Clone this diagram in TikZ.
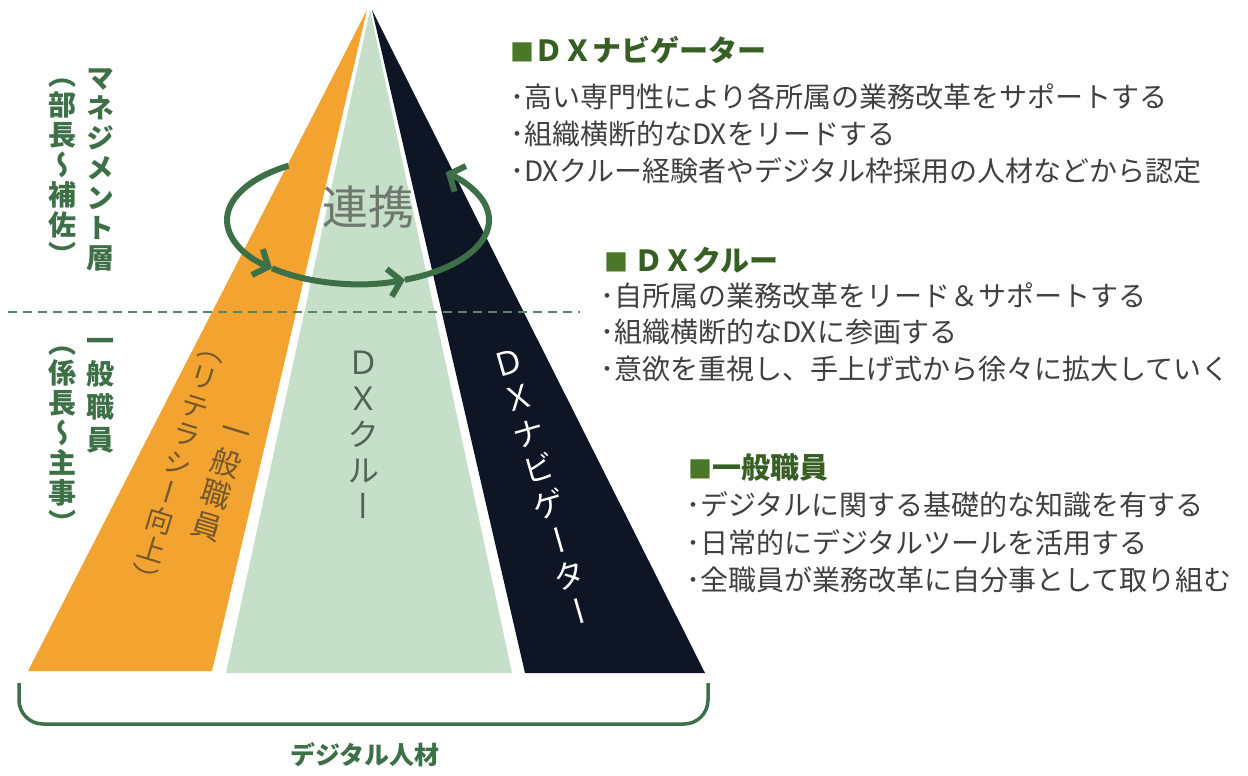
\documentclass[tikz,border=0pt]{standalone}
\usepackage{fontspec}
\usetikzlibrary{arrows.meta}
\newfontfamily\jp{Noto Sans CJK JP}
\newfontfamily\jpv[RawFeature=+vert]{Noto Sans CJK JP}
\definecolor{orangeband}{RGB}{242,163,48}
\definecolor{mintband}{RGB}{197,223,200}
\definecolor{navyband}{RGB}{14,22,38}
\definecolor{lgreen}{RGB}{62,112,72}
\definecolor{hgreen}{RGB}{55,95,35}
\definecolor{sqgreen}{RGB}{75,120,40}
\definecolor{bodygray}{RGB}{64,64,64}
\definecolor{centergray}{RGB}{110,120,110}
\definecolor{minttext}{RGB}{80,100,85}
\definecolor{orangetext}{RGB}{115,88,45}
\tikzset{
  vlabel/.style={font=\jpv\bfseries\fontsize{28}{30}\selectfont, text=lgreen, align=center, inner sep=0pt},
  vband/.style={font=\jpv\fontsize{28}{30}\selectfont, align=center, inner sep=0pt},
  heading/.style={font=\jp\bfseries\fontsize{29}{32}\selectfont, text=hgreen, anchor=west, inner sep=0pt},
  bodyline/.style={font=\jp\fontsize{28}{32}\selectfont, text=bodygray, anchor=west, inner sep=0pt},
  cyc/.style={draw=lgreen, line width=6pt, -{Straight Barb[length=12pt,width=28pt,line width=6pt]}},
}
\newcommand{\sq}{\textcolor{sqgreen}{\fontsize{24}{28}\selectfont ■}}
\newcommand{\mycol}[2]{$\vcenter{\baselineskip=#1\lineskiplimit=-100pt\lineskip=0pt\halign{\hfil##\hfil\cr#2\crcr}}$}
\begin{document}
\begin{tikzpicture}[x=1pt,y=1pt]
\useasboundingbox (0,0) rectangle (1248,-776);
\fill[white] (0,0) rectangle (1248,-776);

% pyramid bands
\fill[orangeband] (367,-10) -- (28,-671) -- (212,-671) -- cycle;
\fill[mintband] (370,-10) -- (226,-673) -- (512,-673) -- cycle;
\fill[navyband] (372,-10) -- (525,-673) -- (705,-673) -- cycle;

% divider
\draw[lgreen!85!white, line width=2pt, dash pattern=on 9pt off 6pt] (8,-312) -- (580,-312);

% cycle arrow
\draw[cyc] (358,-220) ++(122:131 and 64) arc[start angle=122, end angle=229, x radius=131, y radius=64];
\draw[cyc] (358,-220) ++(229:131 and 64) arc[start angle=229, end angle=291, x radius=131, y radius=64];
\draw[cyc] (358,-220) ++(291:131 and 64) arc[start angle=291, end angle=408, x radius=131, y radius=64];

\node[font=\jp\fontsize{46}{50}\selectfont, text=centergray, inner sep=0pt] (renkei) at (368,-207) {連携};

% texts in bands
\node[vband, text=minttext, font=\jpv\fontsize{32}{36}\selectfont] (crew) at (363,-435) {Ｄ\\Ｘ\\ク\\ル\\ー};
\node[vband, text=white, font=\jpv\fontsize{32}{37}\selectfont, rotate=16] (navi) at (544,-487) {Ｄ\\Ｘ\\ナ\\ビ\\ゲ\\ー\\タ\\ー};
\node[vband, text=orangetext, rotate=-17] (lit) at (198,-478)
  {\mycol{30pt}{（\cr リ\cr テ\cr ラ\cr シ\cr ー\cr 向\cr 上\cr ）}\hspace{17pt}{\fontsize{30}{33}\selectfont\mycol{33pt}{一\cr 般\cr 職\cr 員}}};

% left labels
\node[vlabel] (mgmt) at (100,-170) {マ\\ネ\\ジ\\メ\\ン\\ト\\層};
\node[vlabel] (mgmt2) at (62,-172) {（\\部\\長\\～\\補\\佐\\）};
\node[vlabel, font=\jpv\bfseries\fontsize{28}{33}\selectfont] (staff) at (100,-396) {一\\般\\職\\員};
\node[vlabel] (staff2) at (62,-440) {（\\係\\長\\～\\主\\事\\）};

% bracket
\draw[lgreen, line width=3.5pt, rounded corners=24pt] (19,-683) -- (19,-724) -- (708,-724) -- (708,-683);
\node[font=\jp\bfseries\fontsize{25}{28}\selectfont, text=lgreen, inner sep=0pt] (dj) at (365,-755) {デジタル人材};

% right descriptions
\node[heading] (h1) at (510,-50) {\sq ＤＸナビゲーター};
\node[bodyline] (l1a) at (510,-97) {･高い専門性により各所属の業務改革をサポートする};
\node[bodyline] (l1b) at (510,-134) {･組織横断的なDXをリードする};
\node[bodyline] (l1c) at (510,-171) {･DXクルー経験者やデジタル枠採用の人材などから認定};

\node[heading] (h2) at (604,-260) {\sq\ ＤＸクルー};
\node[bodyline] (l2a) at (600,-296) {･自所属の業務改革をリード＆サポートする};
\node[bodyline] (l2b) at (600,-332) {･組織横断的なDXに参画する};
\node[bodyline] (l2c) at (600,-369) {･意欲を重視し、手上げ式から徐々に拡大していく};

\node[heading] (h3) at (688,-467) {\sq 一般職員};
\node[bodyline] (l3a) at (686,-505) {･デジタルに関する基礎的な知識を有する};
\node[bodyline] (l3b) at (686,-543) {･日常的にデジタルツールを活用する};
\node[bodyline] (l3c) at (686,-580) {･全職員が業務改革に自分事として取り組む};
\end{tikzpicture}
\end{document}
